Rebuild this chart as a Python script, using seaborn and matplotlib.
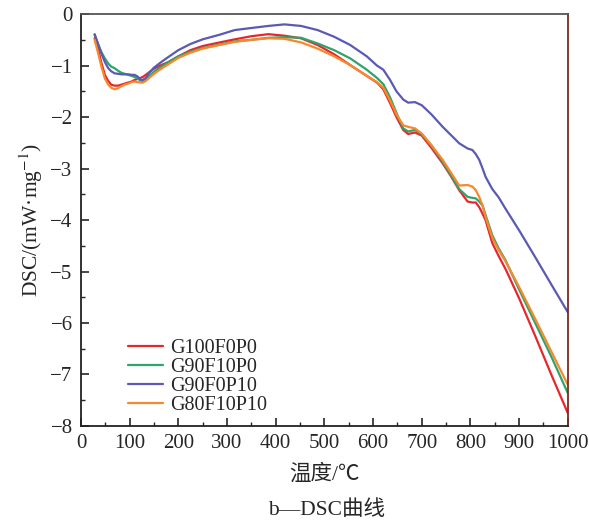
import numpy as np
import pandas as pd
import matplotlib
matplotlib.use("Agg")
import matplotlib.pyplot as plt
from matplotlib.ticker import MultipleLocator
import seaborn as sns

# data (temperature in C, DSC in mW/mg)
temp = [28, 35, 42, 49, 56, 62, 69, 76, 83, 90, 97, 104, 110, 116, 122, 127, 133, 140,
        150, 165, 180, 200, 225, 250, 285, 316, 350, 385, 418, 452, 486, 520, 553, 587,
        608, 621, 635, 648, 662, 672, 686, 700, 720, 743, 760, 777, 794, 804, 811, 818,
        825, 831, 845, 858, 872, 900, 933, 966, 1000]

g100f0p0 = [-0.47, -0.68, -0.95, -1.18, -1.30, -1.37, -1.39, -1.39, -1.37, -1.35, -1.33,
            -1.31, -1.28, -1.26, -1.24, -1.22, -1.18, -1.13, -1.06, -0.99, -0.93, -0.82,
            -0.70, -0.62, -0.55, -0.49, -0.43, -0.39, -0.42, -0.47, -0.60, -0.78, -0.99,
            -1.20, -1.33, -1.46, -1.73, -2.00, -2.25, -2.33, -2.30, -2.36, -2.60, -2.90,
            -3.15, -3.42, -3.64, -3.66, -3.66, -3.75, -3.88, -4.00, -4.45, -4.70, -4.95,
            -5.52, -6.25, -7.00, -7.75]
g90f10p0 = [-0.40, -0.58, -0.74, -0.86, -0.96, -1.02, -1.05, -1.10, -1.14, -1.16, -1.18,
            -1.20, -1.22, -1.25, -1.29, -1.31, -1.27, -1.20, -1.12, -1.02, -0.93, -0.82,
            -0.73, -0.66, -0.59, -0.53, -0.50, -0.46, -0.45, -0.46, -0.57, -0.70, -0.86,
            -1.08, -1.24, -1.36, -1.62, -1.92, -2.22, -2.28, -2.25, -2.33, -2.55, -2.87,
            -3.13, -3.40, -3.55, -3.57, -3.58, -3.64, -3.72, -3.90, -4.30, -4.55, -4.78,
            -5.35, -6.00, -6.65, -7.36]
g90f0p10 = [-0.39, -0.58, -0.77, -0.93, -1.05, -1.11, -1.15, -1.16, -1.17, -1.17, -1.17,
            -1.18, -1.18, -1.21, -1.27, -1.28, -1.24, -1.14, -1.04, -0.93, -0.83, -0.70,
            -0.58, -0.49, -0.40, -0.31, -0.27, -0.23, -0.20, -0.23, -0.31, -0.44, -0.60,
            -0.82, -1.00, -1.08, -1.28, -1.50, -1.66, -1.72, -1.71, -1.77, -1.95, -2.19,
            -2.35, -2.51, -2.61, -2.64, -2.72, -2.83, -3.00, -3.16, -3.40, -3.56, -3.78,
            -4.20, -4.72, -5.25, -5.79]
g80f10p10 = [-0.50, -0.75, -1.02, -1.25, -1.37, -1.43, -1.46, -1.44, -1.40, -1.37, -1.35,
             -1.32, -1.31, -1.32, -1.33, -1.33, -1.30, -1.24, -1.16, -1.06, -0.97, -0.85,
             -0.75, -0.67, -0.60, -0.54, -0.50, -0.47, -0.48, -0.55, -0.67, -0.82, -0.99,
             -1.20, -1.32, -1.43, -1.68, -1.95, -2.16, -2.19, -2.22, -2.32, -2.55, -2.83,
             -3.08, -3.33, -3.32, -3.35, -3.42, -3.55, -3.72, -3.94, -4.35, -4.58, -4.80,
             -5.30, -5.92, -6.55, -7.20]

labels = ["G100F0P0", "G90F10P0", "G90F0P10", "G80F10P10"]
colors = ["#e8262d", "#2fa36b", "#5a5ab4", "#f7892c"]

rows = []
for name, vals in zip(labels, [g100f0p0, g90f10p0, g90f0p10, g80f10p10]):
    for t, v in zip(temp, vals):
        rows.append({"T": t, "DSC": v, "sample": name})
df = pd.DataFrame(rows)

sns.set_style("white")
plt.rcParams["font.family"] = ["Liberation Serif", "Noto Sans CJK SC"]
plt.rcParams["mathtext.fontset"] = "stix"
plt.rcParams["axes.unicode_minus"] = True

fig = plt.figure(figsize=(5.89, 5.22), dpi=100)
ax = fig.add_axes([0.1375, 0.184, 0.8265, 0.789])

sns.lineplot(data=df, x="T", y="DSC", hue="sample", hue_order=labels,
             palette=colors, linewidth=1.6, estimator=None, sort=False, ax=ax)

ax.set_xlim(0, 1000)
ax.set_ylim(-8, 0)
ax.xaxis.set_major_locator(MultipleLocator(100))
ax.xaxis.set_minor_locator(MultipleLocator(50))
ax.yaxis.set_major_locator(MultipleLocator(1))
ax.yaxis.set_minor_locator(MultipleLocator(0.5))
ax.tick_params(which="major", direction="in", length=6, width=1.2, labelsize=15,
               bottom=True, left=True, top=False, right=False, pad=6)
ax.tick_params(which="minor", direction="in", length=3, width=1,
               bottom=True, left=True, top=False, right=False)

for side in ["left", "bottom"]:
    ax.spines[side].set_color("#222222")
    ax.spines[side].set_linewidth(1.3)
ax.spines["top"].set_color("#555555")
ax.spines["top"].set_linewidth(1.3)
ax.spines["right"].set_color("#7a2a22")
ax.spines["right"].set_linewidth(1.3)

ax.set_xlabel("温度/℃", fontsize=15.5, labelpad=8)
ax.set_ylabel("DSC/(mW·mg$^{-1}$)", fontsize=15.5, labelpad=4)

ax.legend(loc="lower left", bbox_to_anchor=(0.06, -0.018), frameon=False,
          fontsize=14.5, handlelength=1.7, labelspacing=0.0, handletextpad=0.4)

fig.text(0.555, 0.003, "b—DSC曲线", fontsize=15.5, ha="center", va="bottom")

fig.savefig("out.png", dpi=100)
